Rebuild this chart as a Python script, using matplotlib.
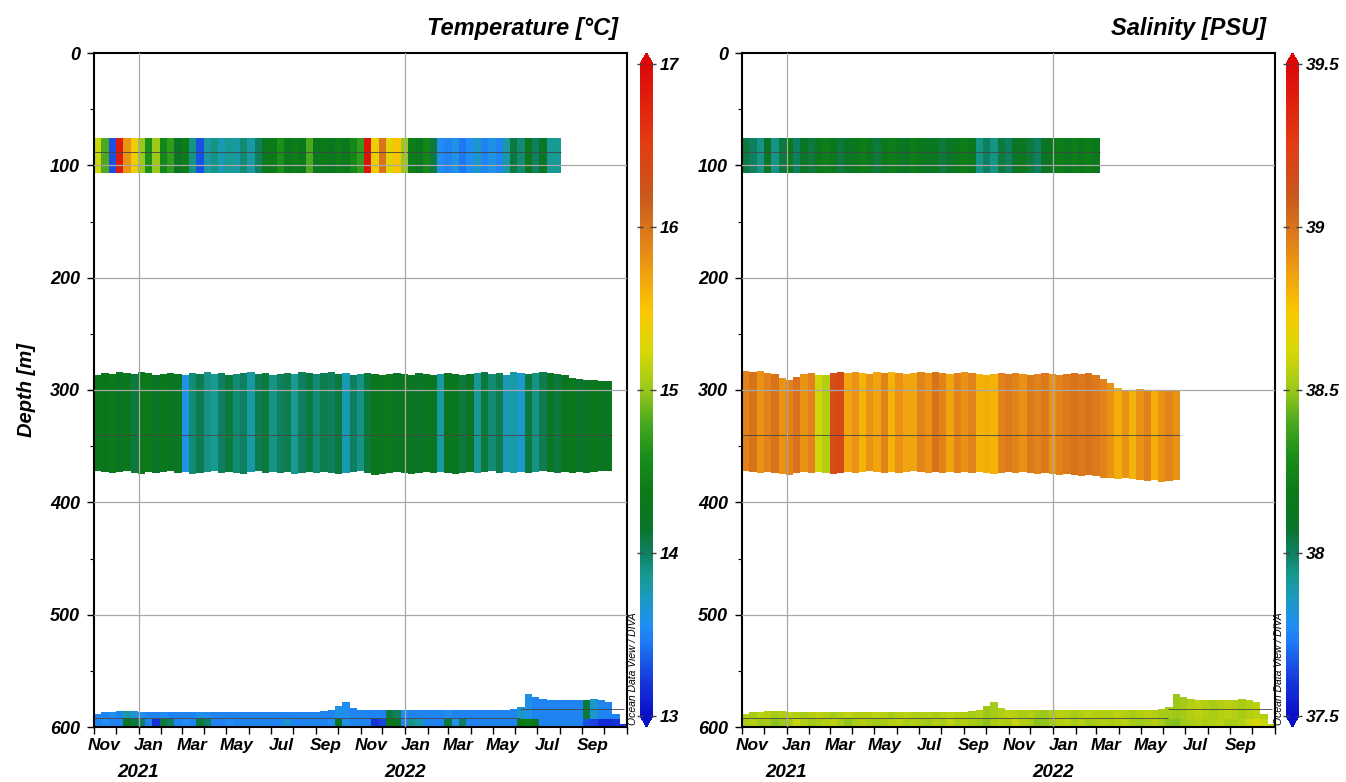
import numpy as np
import pandas as pd
import matplotlib
matplotlib.use('Agg')
import matplotlib.pyplot as plt
import matplotlib.dates as mdates
from matplotlib.colors import LinearSegmentedColormap, Normalize
from matplotlib.cm import ScalarMappable
from matplotlib.ticker import MultipleLocator, NullFormatter

plt.rcParams['font.family'] = ['Liberation Sans', 'DejaVu Sans']
plt.rcParams['font.weight'] = 'bold'
plt.rcParams['font.style'] = 'italic'

# ---- data (one value every 10 days from 2020-11-01) ----
t0 = '2020-11-01'
step = '10D'

# temperature, shallow sensor (~75-107 m)
temp_shallow = [15.2, 14.8, 13.3, 16.8, 15.8, 15.4, 15.0, 14.6, 15.0, 14.5,
                14.7, 14.2, 14.4, 13.9, 13.3, 13.8, 13.9, 13.75, 13.85, 13.8,
                13.95, 13.8, 14.0, 14.3, 14.35, 14.6, 14.3, 14.4, 14.3, 14.8,
                14.3, 14.35, 14.25, 14.4, 14.3, 14.5, 14.7, 16.9, 15.4, 16.0,
                15.3, 15.5, 15.0, 14.4, 14.3, 14.5, 14.1, 13.55, 13.5, 13.6,
                13.45, 13.55, 13.7, 13.5, 13.6, 13.5, 13.8, 14.1, 13.95, 14.3,
                14.0, 14.2, 13.85, 13.85]

# temperature, middle sensor
temp_mid = [14.3, 14.25, 14.35, 14.2, 14.3, 14.1, 14.3, 14.35, 14.2, 14.3,
            14.25, 14.2, 13.6, 13.95, 14.05, 13.9, 13.85, 14.0, 14.1, 13.95,
            14.0, 13.8, 14.05, 14.1, 13.9, 14.0, 14.05, 13.85, 14.0, 14.1,
            13.95, 14.05, 14.0, 14.1, 13.75, 14.0, 13.9, 14.1, 14.3, 14.25,
            14.35, 14.2, 14.3, 14.25, 14.15, 14.3, 14.2, 13.8, 14.25, 14.3,
            14.1, 14.2, 13.85, 14.1, 13.95, 14.05, 13.75, 13.8, 13.7, 14.1,
            13.9, 14.05, 14.2, 14.1, 14.25, 14.3, 14.15, 14.2, 14.3, 14.2,
            14.25]
temp_mid_top = [287, 285, 286, 284, 285, 286, 284, 285, 287, 286,
                285, 286, 287, 285, 286, 284, 286, 285, 287, 286,
                285, 284, 286, 285, 287, 286, 285, 286, 284, 285,
                286, 285, 284, 286, 285, 287, 286, 285, 286, 287,
                286, 285, 286, 287, 285, 286, 287, 286, 285, 286,
                287, 286, 285, 284, 286, 285, 287, 284, 285, 286,
                285, 284, 285, 286, 287, 289, 290, 291, 291, 292, 292]
temp_mid_bot = [372, 373, 374, 373, 372, 374, 375, 373, 374, 373,
                372, 374, 373, 375, 374, 373, 372, 374, 373, 374,
                375, 373, 372, 374, 373, 374, 373, 375, 374, 373,
                374, 373, 374, 375, 374, 373, 372, 374, 376, 375,
                374, 373, 374, 375, 374, 373, 374, 373, 374, 375,
                374, 373, 374, 373, 372, 374, 373, 374, 373, 374,
                373, 372, 373, 374, 373, 374, 373, 374, 373, 372, 372]

# temperature, deep sensor (upper part / near-bottom part)
temp_deep_hi = [13.5, 13.5, 13.55, 13.5, 13.8, 13.65, 13.55, 13.5, 13.5, 13.55,
                13.5, 13.5, 13.5, 13.5, 13.6, 13.55, 13.5, 13.5, 13.5, 13.5,
                13.5, 13.5, 13.5, 13.5, 13.5, 13.5, 13.5, 13.5, 13.5, 13.5,
                13.5, 13.5, 13.5, 13.6, 13.55, 13.5, 13.5, 13.5, 13.5, 13.5,
                14.1, 14.0, 13.55, 13.5, 13.5, 13.5, 13.5, 13.5, 13.55, 13.5,
                13.5, 13.5, 13.5, 13.5, 13.5, 13.5, 13.5, 13.5, 13.7, 13.6,
                13.5, 13.5, 13.5, 13.5, 13.5, 13.5, 13.5, 14.1, 13.7, 13.5,
                13.5, 13.5, 13.45]
temp_deep_lo = [13.5, 13.55, 13.5, 13.5, 14.2, 14.1, 14.0, 13.5, 13.2, 14.1,
                14.0, 13.5, 13.55, 13.5, 14.1, 14.0, 13.5, 13.5, 13.55, 13.5,
                13.5, 13.5, 13.5, 13.5, 13.5, 13.5, 13.7, 13.5, 13.5, 13.5,
                13.5, 13.5, 13.55, 14.2, 13.6, 13.5, 13.5, 13.5, 13.2, 13.25,
                14.3, 14.2, 13.5, 13.9, 13.8, 13.5, 13.5, 13.5, 14.1, 13.6,
                14.0, 13.5, 13.5, 13.5, 13.5, 13.5, 13.5, 13.5, 14.3, 14.4,
                14.2, 13.5, 13.5, 13.5, 13.5, 13.5, 13.5, 13.3, 13.25, 13.15,
                13.15, 13.2, 13.2]
deep_top = [588, 587, 587, 586, 586, 586, 587, 587, 587, 587,
            587, 587, 587, 587, 587, 587, 587, 587, 587, 587,
            587, 587, 587, 587, 587, 587, 587, 587, 587, 587,
            587, 586, 585, 581, 578, 583, 585, 585, 585, 585,
            585, 585, 585, 585, 585, 585, 585, 585, 585, 585,
            585, 585, 585, 585, 585, 585, 585, 584, 582, 571,
            573, 575, 576, 576, 576, 576, 576, 576, 575, 576,
            578, 588, 597]

# salinity
sal_shallow = [38.05, 38.0, 37.95, 38.1, 37.95, 38.05, 38.15, 38.0, 38.1, 38.05,
               38.15, 38.2, 38.15, 38.05, 38.1, 38.15, 38.2, 38.15, 38.05, 38.15,
               38.2, 38.15, 38.1, 38.2, 38.15, 38.1, 38.15, 38.05, 38.1, 38.15,
               38.2, 38.15, 37.95, 38.0, 37.95, 38.05, 38.0, 38.1, 38.15, 38.05,
               38.0, 38.1, 38.15, 38.2, 38.15, 38.2, 38.15, 38.2, 38.15]
sal_mid = [38.95, 39.0, 38.9, 38.95, 39.0, 38.9, 38.95, 39.0, 38.9, 38.95,
           38.6, 38.55, 39.15, 39.2, 38.85, 38.9, 38.8, 38.9, 38.85, 38.95,
           38.8, 38.9, 38.85, 38.85, 38.95, 38.9, 39.0, 38.95, 38.85, 38.95,
           38.9, 38.95, 38.8, 38.82, 38.8, 38.95, 38.98, 38.95, 38.9, 38.98,
           38.95, 38.98, 38.9, 38.95, 38.98, 39.0, 38.98, 39.0, 38.98, 38.95,
           38.9, 38.82, 38.9, 38.8, 38.9, 38.95, 38.82, 38.9, 38.95, 38.9]
sal_mid_top = [283, 284, 283, 285, 286, 289, 291, 288, 286, 285,
               287, 287, 285, 284, 285, 284, 285, 286, 284, 285,
               284, 285, 286, 285, 284, 285, 284, 285, 286, 285,
               284, 285, 286, 287, 286, 285, 286, 285, 286, 287,
               286, 285, 286, 287, 286, 285, 286, 285, 287, 290,
               294, 298, 300, 300, 299, 300, 300, 301, 300, 301]
sal_mid_bot = [372, 373, 374, 373, 374, 375, 376, 374, 373, 374,
               373, 374, 375, 374, 373, 374, 373, 372, 373, 374,
               373, 374, 373, 372, 373, 374, 373, 374, 373, 374,
               373, 374, 373, 374, 375, 374, 373, 374, 373, 374,
               375, 374, 375, 376, 375, 376, 377, 376, 377, 378,
               378, 379, 378, 379, 380, 381, 380, 382, 381, 380]
sal_deep_hi = [38.55, 38.53, 38.57, 38.55, 38.53, 38.54, 38.57, 38.55, 38.53, 38.55,
               38.57, 38.55, 38.53, 38.55, 38.57, 38.55, 38.54, 38.55, 38.57, 38.55,
               38.53, 38.55, 38.57, 38.55, 38.54, 38.55, 38.53, 38.55, 38.57, 38.55,
               38.54, 38.53, 38.55, 38.5, 38.52, 38.55, 38.57, 38.55, 38.53, 38.55,
               38.52, 38.5, 38.55, 38.57, 38.55, 38.53, 38.55, 38.57, 38.55, 38.54,
               38.55, 38.57, 38.55, 38.53, 38.55, 38.57, 38.55, 38.53, 38.52, 38.5,
               38.52, 38.55, 38.57, 38.55, 38.53, 38.55, 38.57, 38.55, 38.53, 38.55,
               38.57, 38.55, 38.53]
sal_deep_lo = [38.53, 38.55, 38.51, 38.53, 38.48, 38.5, 38.53, 38.59, 38.55, 38.51,
               38.53, 38.55, 38.57, 38.53, 38.49, 38.53, 38.55, 38.53, 38.51, 38.53,
               38.55, 38.57, 38.53, 38.55, 38.53, 38.51, 38.55, 38.53, 38.57, 38.53,
               38.55, 38.53, 38.51, 38.48, 38.53, 38.55, 38.53, 38.59, 38.55, 38.53,
               38.48, 38.49, 38.53, 38.55, 38.57, 38.53, 38.55, 38.51, 38.53, 38.55,
               38.53, 38.55, 38.57, 38.53, 38.51, 38.53, 38.55, 38.53, 38.48, 38.47,
               38.51, 38.53, 38.55, 38.53, 38.55, 38.57, 38.53, 38.53, 38.55, 38.59,
               38.61, 38.59, 38.57]

shallow_top, shallow_bot = 76, 107
deep_split = 593
sensor_shallow = 88
sensor_mid = 340
deep_sensor_dates = ['2020-11-01', '2022-06-08', '2022-10-28']
deep_sensor_depth = [592, 584]

year_labels = ['2021', '2022']
year_dates = ['2021-01-01', '2022-01-01']
depth_grid = [100, 200, 300, 400, 500]

# ODV-like colour map
odv_pos = [0.0, 0.05, 0.11, 0.14, 0.18, 0.215, 0.25, 0.29, 0.34, 0.40,
           0.45, 0.50, 0.56, 0.62, 0.68, 0.74, 0.80, 0.88, 1.0]
odv_col = ['#0a0fc8', '#1535d8', '#1e78f5', '#2090f0', '#1a9ac0', '#17998f',
           '#0f8060', '#0a7428', '#0b7a18', '#1a8f1a', '#4aa81e', '#9ac81a',
           '#d8d808', '#f8c800', '#f0a010', '#dc7a1c', '#c8581c', '#e23c12',
           '#dc0808']
cmap = LinearSegmentedColormap.from_list('odv', list(zip(odv_pos, odv_col)))
cmap.set_over('#dc0808')
cmap.set_under('#0a0fc8')

W, H = 1346, 782
fig = plt.figure(figsize=(W / 100, H / 100), dpi=100)


def band(ax, vals, top, bot, norm):
    dates = pd.date_range(t0, periods=len(vals), freq=step)
    cols = cmap(norm(np.array(vals)))
    top = np.broadcast_to(np.array(top, dtype=float), len(vals))
    bot = np.broadcast_to(np.array(bot, dtype=float), len(vals))
    ax.bar(dates, bot - top, bottom=top, width=10, align='edge',
           color=cols, linewidth=0, antialiased=False, zorder=2)
    return dates


def panel(ax, cax, title, norm, ticks, shallow, mid, mid_top, mid_bot, deep_hi, deep_lo):
    d1 = band(ax, shallow, shallow_top, shallow_bot, norm)
    d2 = band(ax, mid, mid_top, mid_bot, norm)
    top = np.array(deep_top, dtype=float)
    split = np.maximum(top, deep_split)
    band(ax, deep_hi, top, split, norm)
    band(ax, deep_lo, split, 600, norm)

    # instrument tracks
    ax.hlines(sensor_shallow, d1[0], d1[-1] + pd.Timedelta(days=10), color='#444444', lw=0.6, zorder=3)
    ax.hlines(sensor_mid, d2[0], d2[-1] + pd.Timedelta(days=10), color='#444444', lw=0.6, zorder=3)
    sd = pd.to_datetime(deep_sensor_dates)
    ax.hlines(deep_sensor_depth, sd[:-1], sd[1:], color='#444444', lw=0.6, zorder=3)

    ax.set_xlim(pd.Timestamp('2020-11-01'), pd.Timestamp('2022-11-01'))
    ax.set_ylim(600, 0)
    ax.yaxis.set_major_locator(MultipleLocator(100))
    ax.yaxis.set_minor_locator(MultipleLocator(50))
    ax.xaxis.set_major_locator(mdates.MonthLocator())
    ax.xaxis.set_major_formatter(NullFormatter())
    ax.xaxis.set_minor_locator(mdates.MonthLocator(bymonth=(1, 3, 5, 7, 9, 11), bymonthday=15))
    ax.xaxis.set_minor_formatter(mdates.DateFormatter('%b'))
    ax.tick_params(axis='x', which='major', length=5, width=1)
    ax.tick_params(axis='x', which='minor', length=0, pad=8, labelsize=12.5)
    ax.tick_params(axis='y', which='major', length=5, width=1, labelsize=13, pad=5)
    ax.tick_params(axis='y', which='minor', length=3, width=0.8)
    for s in ax.spines.values():
        s.set_linewidth(1.5)

    for yd in year_dates:
        ax.axvline(pd.Timestamp(yd), color='#a8a8a8', lw=0.9, zorder=3)
    for d in depth_grid:
        ax.axhline(d, color='#a8a8a8', lw=0.9, zorder=3)
    for lab, yd in zip(year_labels, year_dates):
        ax.text(pd.Timestamp(yd), -0.067, lab, transform=ax.get_xaxis_transform(),
                ha='center', va='center', fontsize=13.5)

    ax.text(0.984, 1.037, title, transform=ax.transAxes, ha='right', va='center', fontsize=17)

    cb = fig.colorbar(ScalarMappable(norm=norm, cmap=cmap), cax=cax, extend='both',
                      extendfrac=0.017, ticks=ticks)
    cb.outline.set_visible(False)
    cb.ax.set_yticklabels(['%g' % t for t in ticks])
    cax.tick_params(which='both', direction='inout', length=4, width=1, color='#444444',
                    left=True, right=True, labelsize=12.5, pad=3)
    cax.minorticks_off()


bottom = 1 - 727 / H
height = 674 / H
ax1 = fig.add_axes([94 / W, bottom, 533 / W, height])
cax1 = fig.add_axes([640 / W, bottom, 13 / W, height])
ax2 = fig.add_axes([742 / W, bottom, 533 / W, height])
cax2 = fig.add_axes([1286 / W, bottom, 13 / W, height])

panel(ax1, cax1, 'Temperature [°C]', Normalize(13, 17), [13, 14, 15, 16, 17],
      temp_shallow, temp_mid, temp_mid_top, temp_mid_bot, temp_deep_hi, temp_deep_lo)
panel(ax2, cax2, 'Salinity [PSU]', Normalize(37.5, 39.5), [37.5, 38, 38.5, 39, 39.5],
      sal_shallow, sal_mid, sal_mid_top, sal_mid_bot, sal_deep_hi, sal_deep_lo)

ax1.set_ylabel('Depth [m]', fontsize=14.5, fontweight='bold', labelpad=10)

for xpix in (633, 1279):
    fig.text(xpix / W, bottom + 2 / H, 'Ocean Data View / DIVA', rotation=90, ha='center', va='bottom',
             fontsize=7.5, fontweight='normal', family=['Liberation Sans Narrow', 'Liberation Sans'])

fig.savefig('out.png', dpi=100)
